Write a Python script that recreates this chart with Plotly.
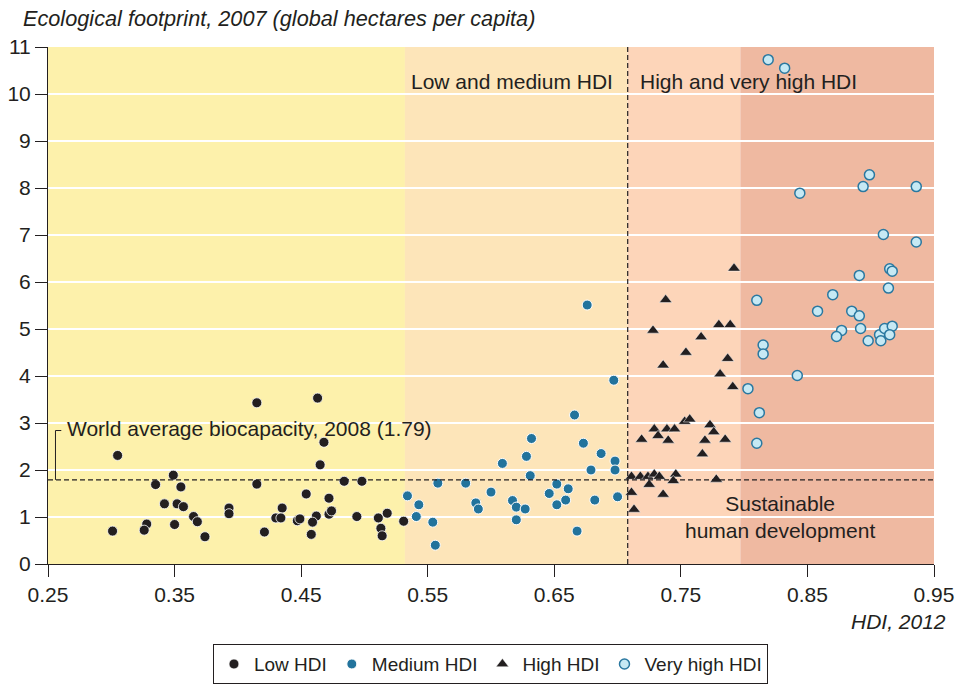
import plotly.graph_objects as go

# ---------------- data ----------------
low_x = [0.305, 0.349, 0.335, 0.355, 0.342, 0.352, 0.357, 0.365, 0.368, 0.393, 0.393,
         0.301, 0.328, 0.326, 0.350, 0.374, 0.415, 0.463, 0.468, 0.465, 0.415, 0.484,
         0.498, 0.454, 0.472, 0.435, 0.430, 0.434, 0.447, 0.449, 0.462, 0.459, 0.458,
         0.472, 0.474, 0.494, 0.511, 0.518, 0.513, 0.514, 0.421, 0.531]
low_y = [2.31, 1.89, 1.69, 1.64, 1.28, 1.28, 1.22, 1.01, 0.90, 1.19, 1.07,
         0.70, 0.85, 0.72, 0.84, 0.58, 3.43, 3.53, 2.59, 2.11, 1.70, 1.76,
         1.76, 1.49, 1.40, 1.19, 0.98, 0.98, 0.92, 0.96, 1.02, 0.89, 0.63,
         1.06, 1.13, 1.01, 0.98, 1.08, 0.76, 0.60, 0.68, 0.91]

med_x = [0.676, 0.697, 0.666, 0.673, 0.687, 0.698, 0.698, 0.679, 0.632, 0.628, 0.609,
         0.631, 0.558, 0.580, 0.652, 0.661, 0.534, 0.600, 0.646, 0.700, 0.588, 0.617,
         0.659, 0.682, 0.543, 0.590, 0.620, 0.627, 0.652, 0.541, 0.554, 0.620, 0.668, 0.556]
med_y = [5.51, 3.91, 3.17, 2.57, 2.35, 2.19, 2.00, 2.00, 2.67, 2.29, 2.14,
         1.88, 1.72, 1.72, 1.70, 1.60, 1.45, 1.53, 1.50, 1.43, 1.30, 1.35,
         1.36, 1.36, 1.26, 1.17, 1.21, 1.17, 1.26, 1.01, 0.89, 0.94, 0.70, 0.40]

high_x = [0.792, 0.738, 0.728, 0.780, 0.789, 0.766, 0.754, 0.787, 0.736, 0.781, 0.791,
          0.753, 0.757, 0.729, 0.739, 0.745, 0.773, 0.776, 0.732, 0.740, 0.719, 0.769,
          0.785, 0.767, 0.711, 0.718, 0.724, 0.729, 0.733, 0.746, 0.744, 0.725, 0.778,
          0.711, 0.736, 0.713]
high_y = [6.29, 5.62, 4.97, 5.09, 5.09, 4.83, 4.50, 4.37, 4.23, 4.04, 3.77,
          3.03, 3.08, 2.87, 2.87, 2.87, 2.96, 2.81, 2.73, 2.63, 2.65, 2.63,
          2.65, 2.34, 1.86, 1.86, 1.86, 1.91, 1.86, 1.91, 1.77, 1.69, 1.80,
          1.52, 1.48, 1.16]

vhigh_x = [0.819, 0.832, 0.844, 0.894, 0.899, 0.936, 0.910, 0.936, 0.915, 0.917, 0.891,
           0.914, 0.870, 0.810, 0.858, 0.885, 0.891, 0.877, 0.873, 0.892, 0.898, 0.907,
           0.911, 0.917, 0.915, 0.908, 0.815, 0.815, 0.842, 0.803, 0.812, 0.810]
vhigh_y = [10.73, 10.55, 7.89, 8.03, 8.28, 8.03, 7.01, 6.85, 6.28, 6.23, 6.14,
           5.87, 5.73, 5.61, 5.38, 5.38, 5.28, 4.97, 4.84, 5.01, 4.75, 4.88,
           5.01, 5.06, 4.88, 4.75, 4.66, 4.47, 4.01, 3.73, 3.22, 2.57]

band_edges = [0.25, 0.532, 0.708, 0.797, 0.95]
band_colors = ["#fdf1ab", "#fde5b9", "#fdd5b9", "#efb9a1"]
hdi_threshold = 0.708
world_biocapacity = 1.79

x_ticks = [0.25, 0.35, 0.45, 0.55, 0.65, 0.75, 0.85, 0.95]
y_ticks = list(range(0, 12))

FONT = "Liberation Sans, Arial, sans-serif"
FS = 21

fig = go.Figure()

fig.add_trace(go.Scatter(
    x=low_x, y=low_y, mode="markers", name="Low HDI",
    marker=dict(symbol="circle", size=10, color="#231f20",
                line=dict(color="white", width=0.8))))
fig.add_trace(go.Scatter(
    x=med_x, y=med_y, mode="markers", name="Medium HDI",
    marker=dict(symbol="circle", size=10, color="#22739c",
                line=dict(color="white", width=1))))
fig.add_trace(go.Scatter(
    x=high_x, y=high_y, mode="markers", name="High HDI",
    marker=dict(symbol="triangle-up", size=11, color="#231f20",
                line=dict(color="white", width=0.5))))
fig.add_trace(go.Scatter(
    x=vhigh_x, y=vhigh_y, mode="markers", name="Very high HDI",
    marker=dict(symbol="circle", size=10, color="#c6e9f4",
                line=dict(color="#2a78a0", width=1.5))))

# background bands
for i, c in enumerate(band_colors):
    fig.add_shape(type="rect", xref="x", yref="y",
                  x0=band_edges[i], x1=band_edges[i + 1], y0=0, y1=11,
                  fillcolor=c, line=dict(width=0), layer="below")

# threshold lines
fig.add_shape(type="line", xref="x", yref="y", x0=0.25, x1=0.95,
              y0=world_biocapacity, y1=world_biocapacity,
              line=dict(color="#231f20", width=1.2, dash="5px,3px"))
fig.add_shape(type="line", xref="x", yref="y", x0=hdi_threshold, x1=hdi_threshold,
              y0=0, y1=11, line=dict(color="#231f20", width=1.2, dash="5px,3px"))

# bracket for biocapacity label
fig.add_shape(type="path", xref="x", yref="y",
              path="M 0.2605 2.84 L 0.2559 2.84 L 0.2559 %s" % world_biocapacity,
              line=dict(color="#231f20", width=1))

tf = dict(family=FONT, size=FS, color="#231f20")
fig.add_annotation(x=0.2638, y=2.89, xref="x", yref="y", text="World average biocapacity, 2008 (1.79)",
                   showarrow=False, xanchor="left", yanchor="middle", font=tf)
fig.add_annotation(x=0.5355, y=10.26, xref="x", yref="y", text="Low and medium HDI",
                   showarrow=False, xanchor="left", yanchor="middle", font=tf)
fig.add_annotation(x=0.716, y=10.26, xref="x", yref="y", text="High and very high HDI",
                   showarrow=False, xanchor="left", yanchor="middle", font=tf)
fig.add_annotation(x=0.828, y=1.01, xref="x", yref="y", text="Sustainable<br>human development",
                   showarrow=False, xanchor="center", yanchor="middle", align="center", font=tf)
fig.add_annotation(x=-0.031, y=1.056, xref="paper", yref="paper",
                   text="<i>Ecological footprint, 2007 (global hectares per capita)</i>",
                   showarrow=False, xanchor="left", yanchor="middle",
                   font=dict(family=FONT, size=21.7, color="#231f20"))
fig.add_annotation(x=1.0155, y=-0.112, xref="paper", yref="paper", text="<i>HDI, 2012</i>",
                   showarrow=False, xanchor="right", yanchor="middle", font=tf)

fig.update_layout(
    width=962, height=691,
    margin=dict(l=48, r=28, t=47, b=127, pad=0, autoexpand=False),
    paper_bgcolor="white", plot_bgcolor="white",
    font=dict(family=FONT, size=FS, color="#231f20"),
    showlegend=True,
    legend=dict(orientation="h", x=0.4994, xanchor="center", y=-0.155, yanchor="top",
                bordercolor="#231f20", borderwidth=1, font=dict(size=19),
                itemwidth=30, tracegroupgap=0),
    xaxis=dict(range=[0.25, 0.95], tickvals=x_ticks, ticktext=[f"{v:.2f}" for v in x_ticks],
               showgrid=False, zeroline=False, showline=True, linecolor="#231f20", linewidth=1,
               ticks="outside", ticklen=12, tickcolor="#231f20", tickwidth=1,
               tickfont=dict(size=FS), automargin=False),
    yaxis=dict(range=[0, 11], tickvals=y_ticks, showgrid=True, gridcolor="white", gridwidth=1.5,
               zeroline=False, showline=True, linecolor="#231f20", linewidth=1,
               ticks="outside", ticklen=12, tickcolor="#231f20", tickwidth=1,
               tickfont=dict(size=FS), automargin=False),
)

fig.write_html("out.html")
